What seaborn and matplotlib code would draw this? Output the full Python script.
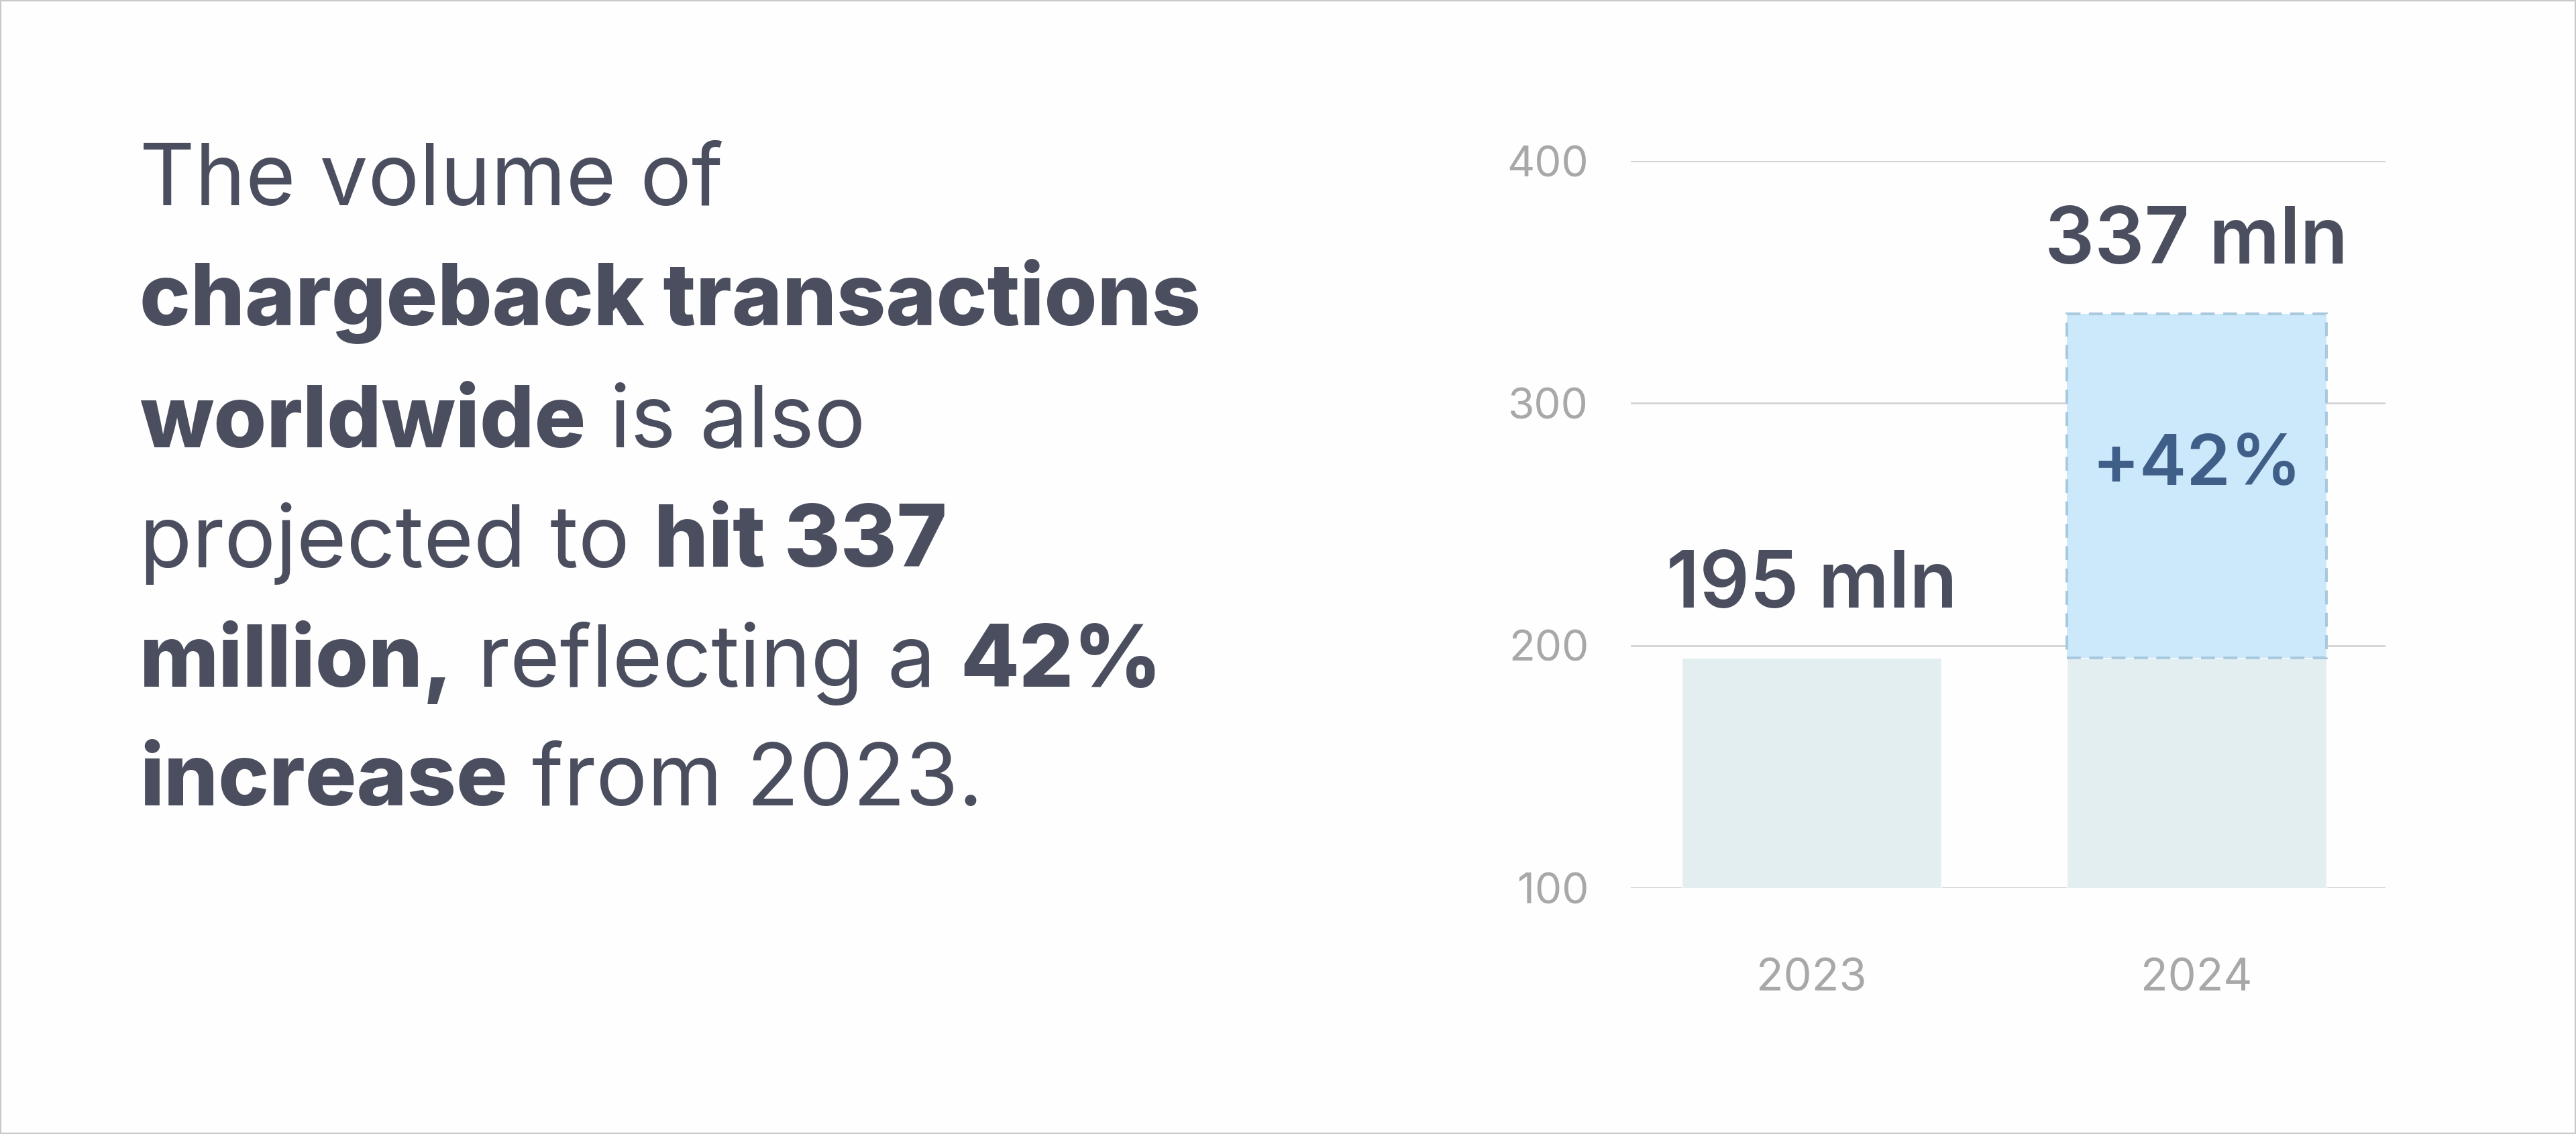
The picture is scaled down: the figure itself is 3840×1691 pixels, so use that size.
import matplotlib
matplotlib.use("Agg")
import matplotlib.pyplot as plt
import seaborn as sns
import pandas as pd
from matplotlib.patches import Rectangle

years = ["2023", "2024"]
values = [195, 337]
bar_labels = ["195 mln", "337 mln"]
growth_label = "+42%"
yticks = [100, 200, 300, 400]

text_lines = [
    [("The volume of", False)],
    [("chargeback transactions", True)],
    [("worldwide", True), (" is also", False)],
    [("projected to ", False), ("hit 337", True)],
    [("million,", True), (" reflecting a ", False), ("42%", True)],
    [("increase", True), (" from 2023.", False)],
]

sns.set_theme(style="white")
plt.rcParams['font.family'] = ['Inter', 'DejaVu Sans']
DARK = "#4a4e5e"
GRAY = "#a8a8a8"

W, H, DPI = 38.4, 16.91, 100
fig = plt.figure(figsize=(W, H), dpi=DPI, facecolor="#fefefe")
fig.patches.append(Rectangle((0, 0), 1, 1, transform=fig.transFigure, fill=False,
                             edgecolor="#c8c8c8", linewidth=3))

ax = fig.add_axes([0.633, 0.217, 0.293, 0.641])
ax.set_facecolor("none")
df = pd.DataFrame({"year": years, "base": [values[0], values[0]]})
sns.barplot(data=df, x="year", y="base", color="#e3eef1", width=0.675, ax=ax,
            saturation=1, bottom=0)
for p in ax.patches:
    p.set_zorder(2)
# growth box for 2024
ax.add_patch(Rectangle((1 - 0.3375, values[0]), 0.675, values[1] - values[0],
                       facecolor="#cce9fc", edgecolor="#a9c9dc", linewidth=3,
                       linestyle=(0, (5, 3)), zorder=3))
ax.set_ylim(100, 400)
ax.set_xlim(-0.47, 1.49)
ax.set_yticks(yticks)
ax.yaxis.grid(True, color="#d3d3d3", linewidth=2)
ax.set_axisbelow(True)
for s in ax.spines.values():
    s.set_visible(False)
ax.tick_params(axis="y", labelsize=46, colors=GRAY, pad=45, length=0)
ax.tick_params(axis="x", labelsize=48, colors=GRAY, pad=75, length=0)
ax.set_xlabel("")
ax.set_ylabel("")
for i, lab in enumerate(bar_labels):
    top = values[0] if i == 0 else values[1]
    ax.text(i, top + 14, lab, ha="center", va="bottom", fontsize=84,
            fontweight="semibold", color=DARK)
ax.text(1, (values[0] + values[1]) / 2 + 8, growth_label, ha="center", va="center",
        fontsize=76, fontweight="semibold", color="#3f5f88")

# rich text on the left
fig.canvas.draw()
r = fig.canvas.get_renderer()
fw = fig.get_figwidth() * DPI
x0 = 85 / 1568
baselines = [125, 198, 272, 345, 418, 490]
for line, yb in zip(text_lines, baselines):
    x = x0
    y = 1 - yb / 690
    for txt, bold in line:
        t = fig.text(x, y, txt, fontsize=92, color=DARK, va="baseline", ha="left",
                     fontweight="heavy" if bold else "normal")
        w = t.get_window_extent(renderer=r).width
        x += w / fw

fig.savefig("out.png", dpi=DPI, facecolor=fig.get_facecolor())
